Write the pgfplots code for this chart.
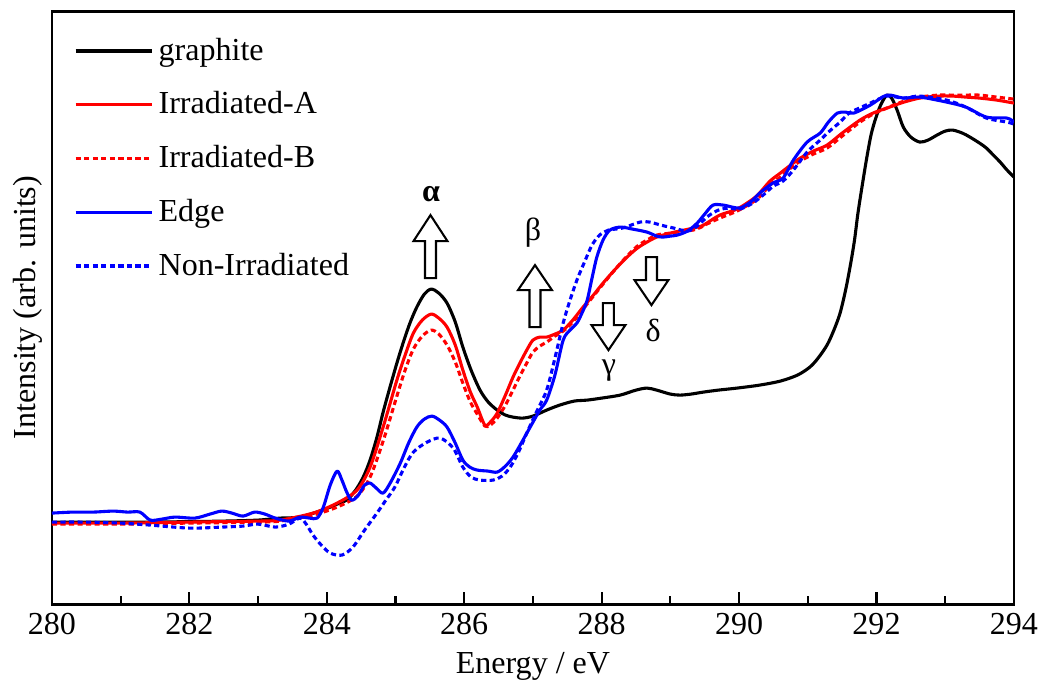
\documentclass[border=0pt]{standalone}
\usepackage{fontspec}
\setmainfont{Liberation Serif}
\usepackage{pgfplots}
\pgfplotsset{compat=1.18}

\begin{document}
\begin{tikzpicture}[font=\fontsize{12.4}{14.8}\selectfont]
\begin{axis}[
    name=ax,
    scale only axis,
    width=372.3pt, height=229.5pt,
    xmin=280, xmax=294, ymin=0, ymax=593,
    xtick={280,282,...,294}, minor x tick num=1,
    ytick=\empty,
    tick align=inside, xtick pos=left,
    major tick length=4.6pt, minor tick length=3pt,
    tick style={black, line width=0.8pt},
    axis line style={line width=1.1pt},
    /pgf/number format/assume math mode=true,
    tick label style={font=\fontsize{12.4}{14.8}\selectfont},
    label style={font=\fontsize{12.4}{14.8}\selectfont},
    xlabel={Energy / eV},
    ylabel={Intensity (arb. units)},
    legend cell align=left,
    legend style={at={(0.0145,0.973)}, anchor=north west, draw=none, fill=none,
        font=\fontsize{12.4}{14.8}\selectfont, row sep=6.7pt},
    legend image code/.code={\draw[#1] (0pt,0pt) -- (29.5pt,0pt);},
    every axis plot/.append style={line width=1.2pt, line join=round},
]
% graphite
\addplot[black, smooth] coordinates {
(280.0,82) (280.5,82) (281.0,82) (281.5,82) (282.0,82.5) (282.5,83) (283.0,84)
(283.32,86) (283.6,87) (283.94,94) (284.15,100) (284.29,104) (284.42,114)
(284.53,127) (284.63,144) (284.73,167) (284.82,192) (284.92,217) (285.02,241)
(285.11,261) (285.21,281) (285.31,297) (285.42,310) (285.52,315) (285.63,311)
(285.75,301) (285.87,282) (285.98,257) (286.10,234) (286.23,214) (286.35,202)
(286.48,194) (286.6,189) (286.71,187) (286.85,186) (287.0,188) (287.2,194)
(287.39,199) (287.6,203) (287.79,204) (288.0,206) (288.27,209) (288.5,214)
(288.66,216) (288.8,214) (289.0,210) (289.14,209) (289.3,210) (289.48,212)
(289.7,214) (289.97,216) (290.3,219) (290.6,223) (290.85,229) (291.03,237)
(291.15,246) (291.28,259) (291.38,274) (291.47,291) (291.55,314) (291.62,339)
(291.68,364) (291.73,391) (291.8,422) (291.86,447) (291.92,469) (291.98,484)
(292.06,499) (292.15,509) (292.22,506) (292.3,494) (292.39,477) (292.5,467)
(292.63,462) (292.75,464) (292.88,469) (293.0,473) (293.11,474) (293.25,471)
(293.36,467) (293.5,461) (293.6,456) (293.7,449) (293.8,442) (293.9,434) (294.0,427)
};
\addlegendentry{graphite}
% Irradiated-A
\addplot[red, smooth] coordinates {
(280.0,81) (281.0,81) (282.0,82) (283.0,83) (283.32,84) (283.8,91) (284.15,101)
(284.44,114) (284.63,137) (284.82,177) (285.02,224) (285.14,249) (285.26,271)
(285.39,284) (285.52,290) (285.63,286) (285.75,277) (285.87,259) (285.98,234)
(286.09,212) (286.19,197) (286.30,179) (286.38,182) (286.48,191) (286.6,209)
(286.71,227) (286.81,241) (286.91,254) (287.0,264) (287.1,267) (287.2,267)
(287.32,270) (287.44,274) (287.58,284) (287.73,297) (287.88,309) (288.02,321)
(288.2,335) (288.37,347) (288.52,356) (288.66,362) (288.8,367) (289.0,371)
(289.2,374) (289.33,376) (289.45,378) (289.53,381) (289.72,389) (289.97,395)
(290.2,405) (290.31,412) (290.45,423) (290.6,431) (290.75,439) (290.89,446)
(291.08,453) (291.28,459) (291.5,471) (291.76,484) (291.95,491) (292.15,496)
(292.4,502) (292.63,506) (292.9,508) (293.11,508) (293.3,507) (293.5,506)
(293.75,504) (294.0,501)
};
\addlegendentry{Irradiated-A}
% Irradiated-B
\addplot[red, smooth, dash pattern=on 2pt off 1.3pt] coordinates {
(280.0,80) (281.0,80) (282.0,81) (283.0,82) (283.32,83) (283.8,89) (284.15,97)
(284.44,108) (284.63,127) (284.82,163) (285.02,208) (285.14,234) (285.26,255)
(285.39,268) (285.52,274) (285.63,270) (285.75,259) (285.87,242) (285.98,221)
(286.09,202) (286.19,190) (286.30,178) (286.38,179) (286.48,186) (286.6,199)
(286.71,214) (286.81,228) (286.91,241) (287.0,252) (287.1,258) (287.2,262)
(287.32,268) (287.44,273) (287.58,282) (287.73,295) (287.88,308) (288.02,320)
(288.2,335) (288.37,348) (288.52,358) (288.66,364) (288.8,369) (289.0,371)
(289.2,373) (289.33,374) (289.45,377) (289.53,380) (289.72,386) (289.97,393)
(290.2,402) (290.31,408) (290.45,419) (290.6,427) (290.75,436) (290.89,443)
(291.08,450) (291.28,456) (291.5,468) (291.76,482) (291.95,490) (292.15,496)
(292.4,503) (292.63,507) (292.9,509) (293.11,509) (293.3,509) (293.5,509)
(293.75,507) (294.0,505)
};
\addlegendentry{Irradiated-B}
% Edge
\addplot[blue, smooth] coordinates {
(280.0,91) (280.3,92) (280.6,92) (280.89,93) (281.1,92) (281.28,92) (281.43,84)
(281.6,85) (281.79,87) (282.08,86) (282.3,90) (282.47,93) (282.62,91) (282.78,88)
(282.95,92) (283.1,90) (283.25,86) (283.45,83) (283.61,87) (283.75,86) (283.86,86)
(283.95,97) (284.05,119) (284.15,133) (284.22,124) (284.29,112) (284.36,104)
(284.45,108) (284.55,119) (284.63,121) (284.72,116) (284.82,111) (284.93,122)
(285.07,141) (285.19,161) (285.31,177) (285.42,185) (285.53,188) (285.64,184)
(285.75,177) (285.87,161) (285.98,144) (286.08,137) (286.19,134) (286.35,133)
(286.48,132) (286.6,138) (286.71,147) (286.83,161) (286.96,177) (287.1,194)
(287.2,204) (287.32,229) (287.44,264) (287.54,274) (287.64,281) (287.72,292)
(287.79,304) (287.86,326) (287.93,347) (288.02,364) (288.12,374) (288.27,377)
(288.45,375) (288.66,372) (288.8,368) (288.89,367) (289.0,368) (289.1,369)
(289.25,373) (289.39,381) (289.5,390) (289.62,399) (289.77,399) (289.9,397)
(290.01,396) (290.1,399) (290.2,404) (290.3,411) (290.49,421) (290.64,426)
(290.79,444) (290.99,462) (291.18,471) (291.3,482) (291.43,491) (291.55,492)
(291.67,491) (291.91,499) (292.15,509) (292.39,506) (292.63,507) (293.02,502)
(293.3,497) (293.6,487) (293.9,486) (294.0,482)
};
\addlegendentry{Edge}
% Non-Irradiated
\addplot[blue, smooth, dash pattern=on 2pt off 1.3pt] coordinates {
(280.0,82) (280.5,82) (281.0,81) (281.43,79) (282.0,76) (282.47,77) (282.78,78)
(283.0,80) (283.25,77) (283.45,80) (283.61,86) (283.7,80) (283.8,69) (283.92,59)
(284.05,51) (284.22,49) (284.38,57) (284.55,74) (284.73,91) (284.86,104)
(284.99,117) (285.13,137) (285.26,152) (285.46,162) (285.65,166) (285.84,156)
(285.98,137) (286.1,127) (286.23,124) (286.42,124) (286.55,128) (286.67,137)
(286.79,152) (286.91,171) (287.05,192) (287.2,214) (287.32,246) (287.44,281)
(287.54,304) (287.64,324) (287.75,342) (287.86,359) (287.97,369) (288.1,374)
(288.3,376) (288.56,382) (288.7,382) (288.86,379) (289.05,376) (289.25,373)
(289.39,378) (289.55,388) (289.7,394) (289.85,396) (290.01,395) (290.2,401)
(290.35,409) (290.5,418) (290.64,423) (290.79,434) (290.99,452) (291.18,464)
(291.3,472) (291.47,482) (291.6,491) (291.75,496) (291.91,501) (292.15,508)
(292.39,506) (292.63,508) (293.02,504) (293.3,497) (293.6,486) (293.9,482) (294.0,480)
};
\addlegendentry{Non-Irradiated}

% block arrows and peak labels
\draw[line width=0.8pt, fill=white] (axis cs:285.429,326) -- (axis cs:285.589,326)
  -- (axis cs:285.589,363) -- (axis cs:285.756,363) -- (axis cs:285.509,389)
  -- (axis cs:285.262,363) -- (axis cs:285.429,363) -- cycle;
\node at (axis cs:285.516,410) {\textbf{α}};
\draw[line width=0.8pt, fill=white] (axis cs:286.95,277) -- (axis cs:287.11,277)
  -- (axis cs:287.11,314) -- (axis cs:287.277,314) -- (axis cs:287.03,339)
  -- (axis cs:286.783,314) -- (axis cs:286.95,314) -- cycle;
\node at (axis cs:287.0,371) {β};
\draw[line width=0.8pt, fill=white] (axis cs:288.019,301) -- (axis cs:288.179,301)
  -- (axis cs:288.179,279) -- (axis cs:288.346,279) -- (axis cs:288.099,254)
  -- (axis cs:287.852,279) -- (axis cs:288.019,279) -- cycle;
\node at (axis cs:288.107,234) {γ};
\draw[line width=0.8pt, fill=white] (axis cs:288.645,347) -- (axis cs:288.805,347)
  -- (axis cs:288.805,324) -- (axis cs:288.972,324) -- (axis cs:288.725,299)
  -- (axis cs:288.478,324) -- (axis cs:288.645,324) -- cycle;
\node at (axis cs:288.75,274) {δ};
\end{axis}
\pgfresetboundingbox
\path ([shift={(-20.1pt,-34.4pt)}]ax.south west) rectangle ([shift={(9.7pt,4.3pt)}]ax.north east);
\end{tikzpicture}
\end{document}
